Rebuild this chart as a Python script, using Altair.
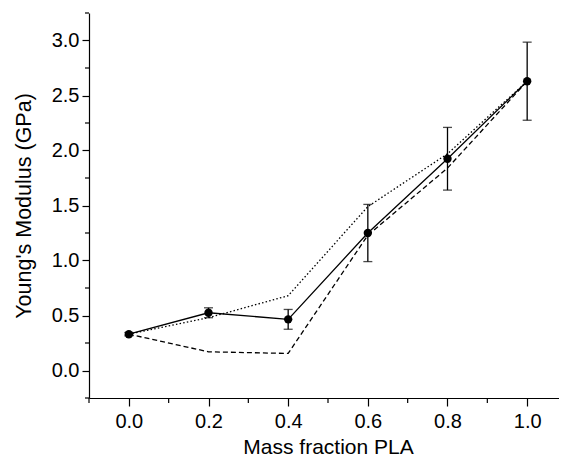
import altair as alt
import pandas as pd

# Data
mass_fraction = [0.0, 0.2, 0.4, 0.6, 0.8, 1.0]
modulus = [0.33, 0.525, 0.465, 1.25, 1.925, 2.63]
modulus_err = [0.015, 0.045, 0.09, 0.26, 0.285, 0.355]
upper_model = [0.33, 0.48, 0.68, 1.49, 1.97, 2.63]
lower_model = [0.33, 0.17, 0.155, 1.23, 1.84, 2.63]

x_major = [0.0, 0.2, 0.4, 0.6, 0.8, 1.0]
y_major = [0.0, 0.5, 1.0, 1.5, 2.0, 2.5, 3.0]
x_minor = [-0.1, 0.1, 0.3, 0.5, 0.7, 0.9, 1.1]
y_minor = [-0.25, 0.25, 0.75, 1.25, 1.75, 2.25, 2.75, 3.25]

FONT = "Liberation Sans"

df = pd.DataFrame({
    "x": mass_fraction,
    "y": modulus,
    "lo": [m - e for m, e in zip(modulus, modulus_err)],
    "hi": [m + e for m, e in zip(modulus, modulus_err)],
    "up": upper_model,
    "low": lower_model,
})

xscale = alt.Scale(domain=[-0.1, 1.1], nice=False, zero=False)
yscale = alt.Scale(domain=[-0.25, 3.25], nice=False, zero=False)

xaxis = alt.Axis(values=x_major, format=".1f", tickSize=8, tickWidth=1.2,
                 tickColor="black", domainColor="black", domainWidth=1.2,
                 labelFont=FONT, labelFontSize=20, labelColor="black",
                 labelPadding=5, grid=False, title="Mass fraction PLA",
                 titleFont=FONT, titleFontSize=21, titleFontWeight="normal",
                 titleColor="black", titlePadding=5)
yaxis = alt.Axis(values=y_major, format=".1f", tickSize=7, tickWidth=1.2,
                 tickColor="black", domainColor="black", domainWidth=1.2,
                 labelFont=FONT, labelFontSize=20, labelColor="black",
                 labelPadding=3, grid=False, title="Young's Modulus (GPa)",
                 titleFont=FONT, titleFontSize=21.5, titleFontWeight="normal",
                 titleColor="black", titlePadding=16)


def X(field):
    return alt.X(field, type="quantitative", scale=xscale, axis=xaxis)


def Y(field):
    return alt.Y(field, type="quantitative", scale=yscale, axis=yaxis)


base = alt.Chart(df)

solid = base.mark_line(color="black", strokeWidth=1.3).encode(x=X("x"), y=Y("y"))
dotted = base.mark_line(color="black", strokeWidth=1.3, strokeDash=[1.5, 2.2]).encode(
    x=X("x"), y=Y("up"))
dashed = base.mark_line(color="black", strokeWidth=1.3, strokeDash=[5, 3]).encode(
    x=X("x"), y=Y("low"))
errs = base.mark_errorbar(ticks=True, size=9, thickness=1.3, color="black").encode(
    x=X("x"), y=Y("lo"), y2="hi:Q")
pts = base.mark_circle(color="black", size=70, opacity=1).encode(x=X("x"), y=Y("y"))

ymin_df = pd.DataFrame({"v": y_minor})
xmin_df = pd.DataFrame({"v": x_minor})
yminor = alt.Chart(ymin_df).mark_rule(color="black", strokeWidth=1.2).encode(
    y=Y("v"), x=alt.value(-4), x2=alt.value(0))
xminor = alt.Chart(xmin_df).mark_rule(color="black", strokeWidth=1.2).encode(
    x=X("v"), y=alt.value(385), y2=alt.value(390))

chart = alt.layer(dotted, dashed, solid, errs, pts, yminor, xminor).properties(
    width=478, height=385,
    autosize=alt.AutoSizeParams(type="none"),
    padding={"left": 81, "top": 5, "right": -8, "bottom": 60},
).configure(background="white").configure_view(stroke=None)

chart.save("out.html", embed_options={"renderer": "svg", "actions": False})
